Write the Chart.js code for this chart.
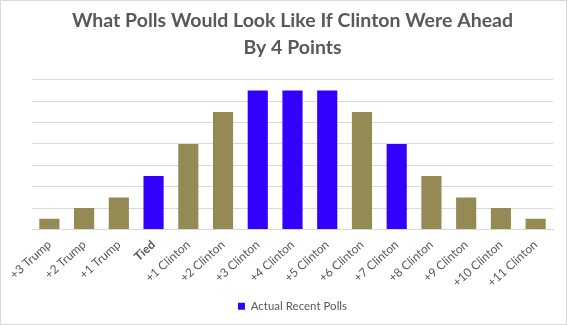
<!DOCTYPE html>
<html><head><meta charset="utf-8">
<script src="https://cdn.jsdelivr.net/npm/chart.js@4/dist/chart.umd.min.js"></script>
<style>html,body{margin:0;padding:0;background:#fff}#w{width:567px;height:325px}</style>
</head><body><div id="w"><canvas id="c" width="567" height="325"></canvas></div>
<script>
const categories = ['+3 Trump','+2 Trump','+1 Trump','Tied','+1 Clinton','+2 Clinton','+3 Clinton','+4 Clinton','+5 Clinton','+6 Clinton','+7 Clinton','+8 Clinton','+9 Clinton','+10 Clinton','+11 Clinton'];
const pollCounts = [1,2,3,5,8,11,13,13,13,11,8,5,3,2,1];
const actualRecent = [false,false,false,true,false,false,true,true,true,false,true,false,false,false,false];
const titleLines = ['What Polls Would Look Like If Clinton Were Ahead','By 4 Points'];
const legendLabel = 'Actual Recent Polls';

const OLIVE = '#948A54', BLUE = '#3300FF';
const otherData = pollCounts.map((v,i)=> actualRecent[i] ? null : v);
const actualData = pollCounts.map((v,i)=> actualRecent[i] ? v : null);

const borderPlugin = {
  id:'border',
  afterDraw(chart){
    const c = chart.ctx; c.save(); c.strokeStyle='#d9d9d9'; c.lineWidth=1;
    c.strokeRect(0.5,0.5,chart.width-1,chart.height-1); c.restore();
  }
};

new Chart(document.getElementById('c'), {
  type:'bar',
  data:{labels:categories, datasets:[
    {label:'Other', data:otherData, backgroundColor:OLIVE, barPercentage:0.58, categoryPercentage:1, grouped:false},
    {label:legendLabel, data:actualData, backgroundColor:BLUE, barPercentage:0.58, categoryPercentage:1, grouped:false}
  ]},
  options:{
    responsive:false, animation:false,
    layout:{padding:{left:32,right:14,top:3,bottom:3}},
    plugins:{
      title:{display:true, text:titleLines, color:'#595959', font:{family:'Lato', size:19.5, weight:'bold', lineHeight:1.38}, padding:{top:4,bottom:19}},
      legend:{position:'bottom', labels:{filter:(it)=>it.text===legendLabel, boxWidth:7, boxHeight:7, color:'#595959', font:{family:'Lato', size:11.5}, padding:6}},
      tooltip:{enabled:false}
    },
    scales:{
      x:{grid:{display:false}, border:{color:'#d9d9d9'},
         afterFit:(s)=>{ s.height = 65; },
         ticks:{color:'#595959', maxRotation:42, minRotation:42, autoSkip:false, padding:0,
           font:(ctx)=>({family:'Lato', size:12, weight: categories[ctx.index]==='Tied' ? 'bold':'normal'})}},
      y:{min:0, max:14, ticks:{display:false, stepSize:2}, grid:{color:'#d9d9d9', drawTicks:false}, border:{display:false}}
    }
  },
  plugins:[borderPlugin]
});
</script></body></html>
